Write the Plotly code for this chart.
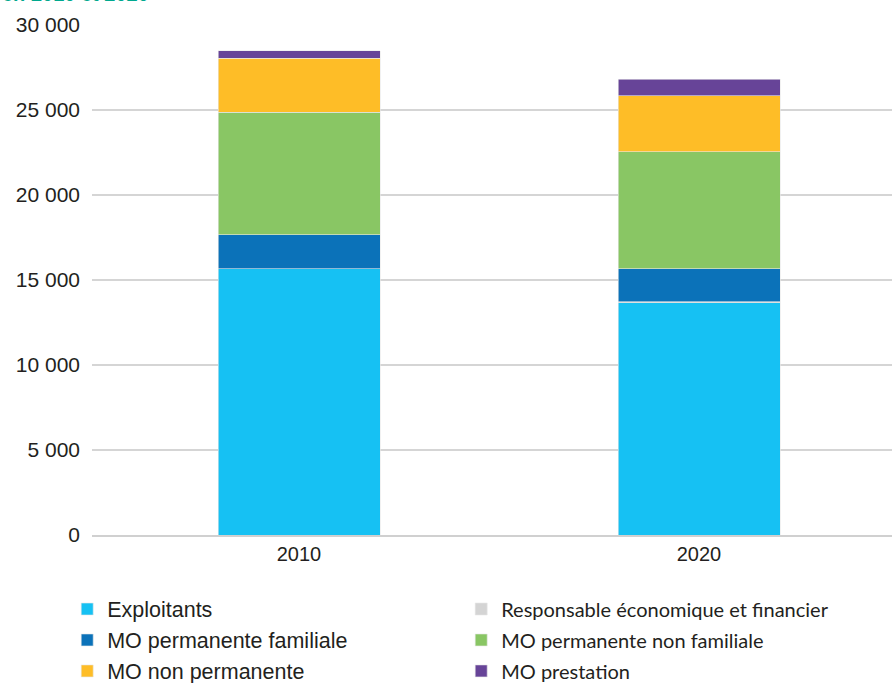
import plotly.graph_objects as go

years = ["2010", "2020"]
exploitants = [15650, 13650]
responsable = [20, 60]
mo_perm_fam = [2000, 1960]
mo_perm_non_fam = [7200, 6880]
mo_non_perm = [3170, 3280]
mo_prestation = [450, 980]

tick_vals = [0, 5000, 10000, 15000, 20000, 25000, 30000]
tick_text = ["0", "5 000", "10 000", "15 000", "20 000", "25 000", "30 000"]

base_font = "Liberation Sans"
calibri_like = "Lato"

series = [
    ("Exploitants", exploitants, "#16c1f3", None),
    ("Responsable économique et financier", responsable, "#d4d4d4", calibri_like),
    ("MO permanente familiale", mo_perm_fam, "#0b72b9", None),
    ("MO permanente non familiale", mo_perm_non_fam, "#89c664", calibri_like),
    ("MO non permanente", mo_non_perm, "#febd27", None),
    ("MO prestation", mo_prestation, "#674498", calibri_like),
]

fig = go.Figure()
for name, vals, color, fam in series:
    if fam is None:
        label = name
    else:
        label = f'<span style="font-family:{fam};font-size:20px">{name}</span>'
    fig.add_trace(go.Bar(
        x=years, y=vals, name=label,
        marker=dict(color=color, line=dict(color="#e8e8e8", width=0.6)),
        width=0.405,
    ))

fig.update_layout(
    barmode="stack",
    width=892, height=683,
    margin=dict(l=92, r=0, t=25, b=148, autoexpand=False),
    paper_bgcolor="white", plot_bgcolor="white",
    font=dict(family=base_font, size=21, color="#231f20"),
    showlegend=True,
    legend=dict(
        orientation="h", x=-0.031, y=-0.105, xanchor="left", yanchor="top",
        entrywidth=349, entrywidthmode="pixels",
        traceorder="normal", font=dict(family=base_font, size=21.5, color="#231f20"),
        tracegroupgap=0, itemwidth=30,
    ),
    xaxis=dict(
        range=[-0.5175, 1.4825], showgrid=False, showline=True,
        linecolor="#d0d0d0", linewidth=2, ticks="", tickfont=dict(size=20),
    ),
    yaxis=dict(
        range=[0, 30000], tickvals=tick_vals, ticktext=tick_text,
        showgrid=True, gridcolor="#d5d5d5", gridwidth=2,
        zeroline=False, showline=False, ticks="", ticklabelstandoff=11,
        tickfont=dict(size=21),
    ),
    annotations=[dict(
        text="<b>en 2010 et 2020</b>", xref="paper", yref="paper",
        x=-92/800, y=1 + 18/510, xanchor="left", yanchor="bottom",
        showarrow=False, font=dict(color="#00a88e", size=20),
    )],
)

fig.write_html(
    "out.html",
    config={"displayModeBar": False},
    post_script="document.body.style.margin='0';document.body.style.padding='0';",
)
